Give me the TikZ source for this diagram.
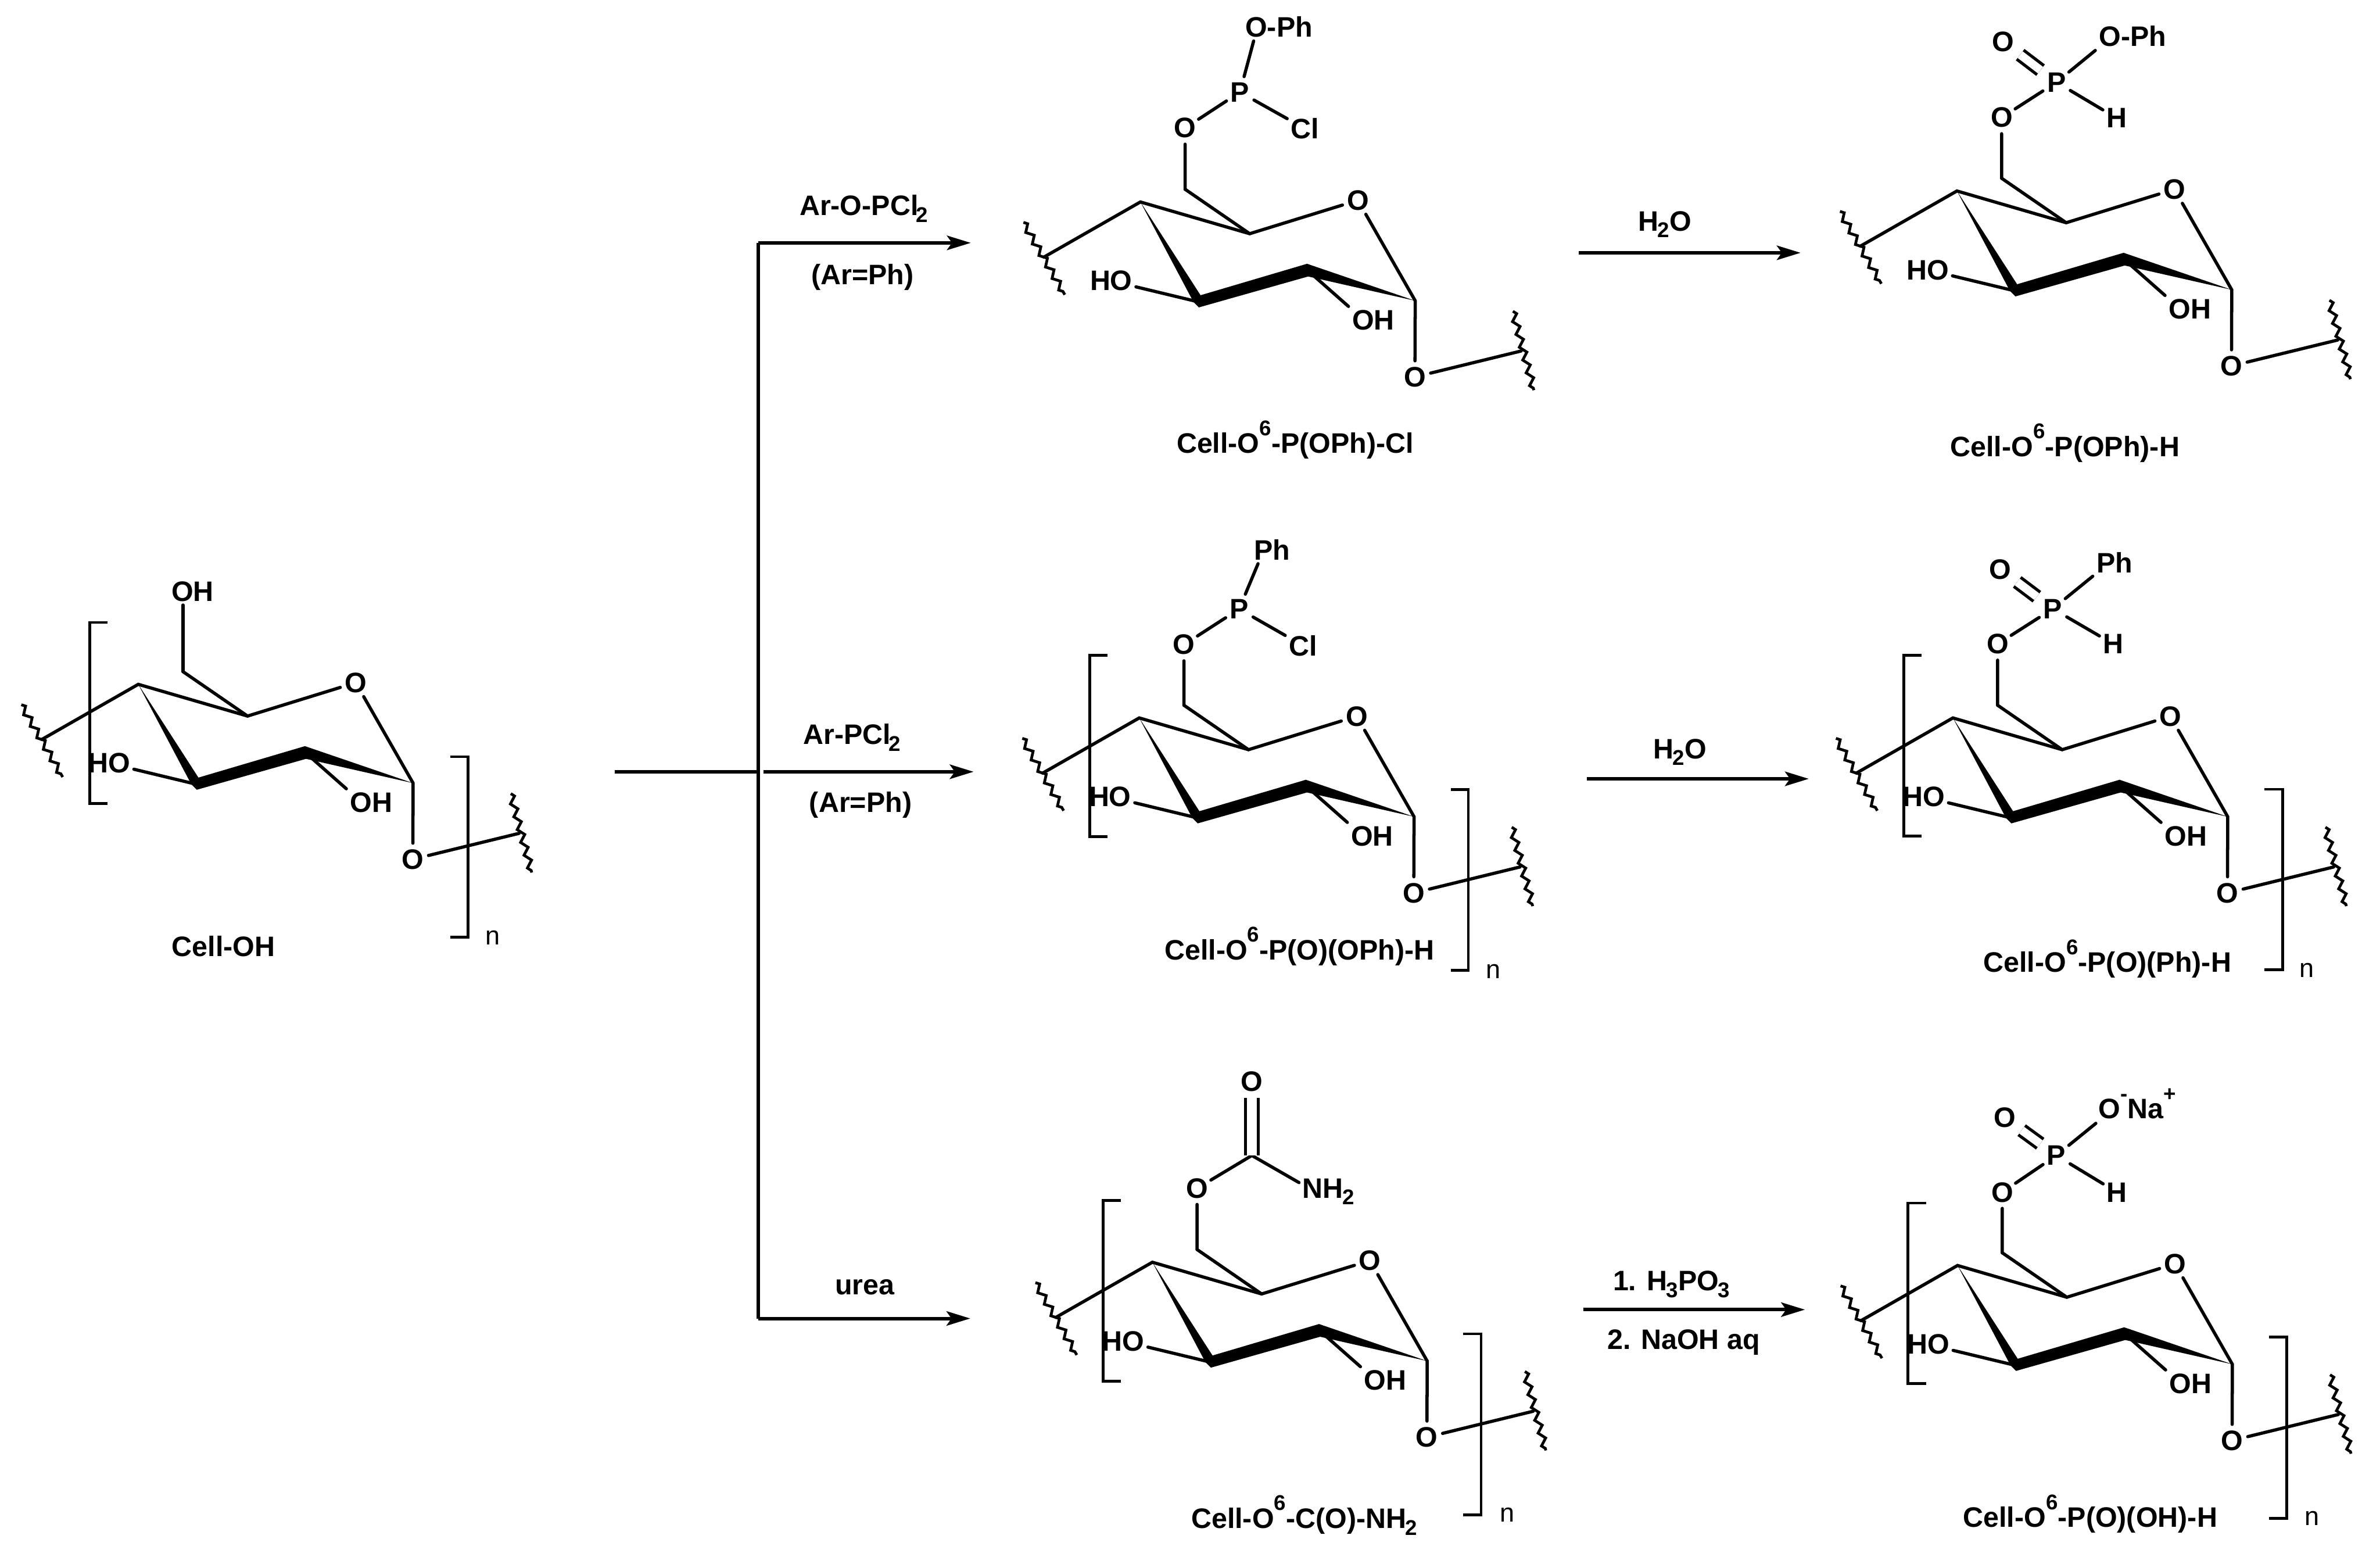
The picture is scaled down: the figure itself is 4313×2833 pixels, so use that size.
\documentclass[tikz,border=0pt]{standalone}
\usepackage{fontspec}
\setmainfont{Liberation Sans}
\usetikzlibrary{arrows.meta,decorations.pathmorphing}
\newcommand\chemsub[1]{\kern-.03em\raisebox{-.24em}[0pt][0pt]{\fontsize{11}{11}\selectfont #1}}
\newcommand\chemsup[1]{\raisebox{.63em}[0pt][0pt]{\fontsize{11}{11}\selectfont #1}}
\tikzset{
  chemfont/.style={font=\fontsize{14.5}{17}\selectfont\bfseries},
  bond/.style={line width=.058cm,line join=miter,line cap=round},
  dblbond/.style={line width=.055cm,line cap=butt,double,double distance=.15cm,shorten >=.09cm,shorten <=.07cm},
  wavy/.style={line width=.05cm,decorate,decoration={zigzag,segment length=.24cm,amplitude=.055cm}},
  atomone/.style={chemfont,circle,inner sep=0pt,minimum size=.57cm},
  atomtxt/.style={chemfont,rectangle,inner sep=.06cm},
  caption/.style={chemfont,anchor=base,inner sep=0pt},
  reagent/.style={chemfont,anchor=base,inner sep=0pt},
  rep/.style={font=\fontsize{13.5}{16}\selectfont,inner sep=0pt},
  brk/.style={line width=.05cm,line join=miter},
  rxn/.style={line width=.062cm,-{Stealth[length=.43cm,width=.26cm,inset=.09cm]}},
  rxnline/.style={line width=.062cm,line join=miter},
}
\newcommand\cellring[3]{%
  \begin{scope}[shift={(#2,#3)},name prefix=#1-]
    \coordinate (C4) at (0,0);
    \coordinate (C5) at (198,57.5);
    \coordinate (C1) at (498,179);
    \coordinate (C2) at (302,123);
    \coordinate (C3) at (105,181);
    \coordinate (C6) at (81,-23);
    \coordinate (WL) at (-175,100);
    \coordinate (WLa) at (-212,37);
    \coordinate (WLb) at (-137,168);
    \coordinate (WR) at (690,270);
    \coordinate (WRa) at (675,198);
    \coordinate (WRb) at (713,341);
    \node[atomone] (O5) at (394,-3) {O};
    \node[atomone] (O1) at (497.5,317) {O};
    \node[atomtxt] (HO) at (-53,143) {HO};
    \node[atomtxt] (OH) at (422,214) {OH};
    \draw[bond] (WL) -- (C4) -- (C5) -- (O5) -- (C1) -- (O1) -- (WR);
    \draw[bond] (C5) -- (C6);
    \draw[bond] (C3) -- (HO);
    \draw[bond] (C2) -- (OH.north west);
    \draw[wavy] (WLa) -- (WLb);
    \draw[wavy] (WRa) -- (WRb);
    \fill[black] (C4) -- (109,169) -- (302,112) -- (C1) -- (304,135) -- (106,191) -- (96,181) -- cycle;
  \end{scope}}
\begin{document}
\begin{tikzpicture}[x=.01cm,y=-.01cm]
\useasboundingbox (0,0) rectangle (4313,2833);

% ---------- Cell-OH
\cellring{a}{250.6}{1239.8}
\node[atomtxt] (a-OH6) at (349,1071.4) {OH};
\draw[bond] (a-C6) -- (a-C6 |- a-OH6.south);
\draw[brk] (194.5,1127.6) -- (162.6,1127.6) -- (162.6,1455.6) -- (194.5,1455.6);
\draw[brk] (816.4,1371) -- (848.3,1371) -- (848.3,1698) -- (816.4,1698);
\node[rep] (a-n) at (893,1699) {n};
\node[caption] (a-cap) at (405,1733) {Cell-OH};

% ---------- top middle
\cellring{b}{2066.6}{365.9}
\node[atomone] (b-O6) at (2147.6,232) {O};
\node[atomone] (b-P) at (2246.9,167) {P};
\node[atomtxt] (b-Cl) at (2364.7,233) {Cl};
\node[atomtxt] (b-OPh) at (2317.7,48.8) {O-Ph};
\draw[bond] (b-C6) -- (b-O6) -- (b-P) -- (b-OPh.-151);
\draw[bond] (b-P) -- (b-Cl);
\node[caption] (b-cap) at (2347,821) {Cell-O\chemsup{6}-P(OPh)-Cl};

% ---------- top right
\cellring{c}{3546.3}{346}
\node[atomone] (c-O6) at (3627.3,213) {O};
\node[atomone] (c-P) at (3726.6,149) {P};
\node[atomone] (c-Oa) at (3630.4,75.9) {O};
\node[atomone] (c-H) at (3835.8,214) {H};
\node[atomtxt] (c-OPh) at (3864.6,66) {O-Ph};
\draw[bond] (c-C6) -- (c-O6) -- (c-P) -- (c-OPh.south west);
\draw[bond] (c-P) -- (c-H);
\draw[dblbond] (c-P) -- (c-Oa);
\node[caption] (c-cap) at (3742,826.7) {Cell-O\chemsup{6}-P(OPh)-H};

% ---------- middle middle
\cellring{d}{2064.5}{1300.7}
\node[atomone] (d-O6) at (2145.5,1168) {O};
\node[atomone] (d-P) at (2245.5,1103.4) {P};
\node[atomtxt] (d-Cl) at (2361.2,1169.6) {Cl};
\node[atomtxt] (d-Ph) at (2305,996) {Ph};
\draw[bond] (d-C6) -- (d-O6) -- (d-P) -- (d-Ph.-135);
\draw[bond] (d-P) -- (d-Cl);
\draw[brk] (2007,1187.4) -- (1974.7,1187.4) -- (1974.7,1515.4) -- (2007,1515.4);
\draw[brk] (2629.2,1430.3) -- (2660.8,1430.3) -- (2660.8,1757.7) -- (2629.2,1757.7);
\node[rep] (d-n) at (2706.3,1760.4) {n};
\node[caption] (d-cap) at (2354.8,1738.8) {Cell-O\chemsup{6}-P(O)(OPh)-H};

% ---------- middle right
\cellring{e}{3539}{1300.7}
\node[atomone] (e-O6) at (3620,1166.8) {O};
\node[atomone] (e-P) at (3720,1102.9) {P};
\node[atomone] (e-Oa) at (3625,1031.3) {O};
\node[atomone] (e-H) at (3829.7,1166.8) {H};
\node[atomtxt] (e-Ph) at (3831.7,1018.8) {Ph};
\draw[bond] (e-C6) -- (e-O6) -- (e-P) -- (e-Ph.south west);
\draw[bond] (e-P) -- (e-H);
\draw[dblbond] (e-P) -- (e-Oa);
\draw[brk] (3482.2,1187.4) -- (3449.9,1187.4) -- (3449.9,1514.9) -- (3482.2,1514.9);
\draw[brk] (4103,1429.8) -- (4136.6,1429.8) -- (4136.6,1756.7) -- (4103,1756.7);
\node[rep] (e-n) at (4180.5,1757.7) {n};
\node[caption] (e-cap) at (3818.8,1761.5) {Cell-O\chemsup{6}-P(O)(Ph)-H};

% ---------- bottom middle
\cellring{f}{2088.3}{2286.8}
\node[atomone] (f-O6) at (2169.3,2152.9) {O};
\coordinate (f-CO) at (2268.6,2093.4);
\node[atomone] (f-Oa) at (2268.6,1959.5) {O};
\node[atomtxt] (f-NH) at (2407.5,2152.9) {NH\chemsub{2}};
\draw[bond] (f-C6) -- (f-O6) -- (f-CO) -- (f-NH.169);
\draw[dblbond,double distance=.17cm,shorten <=0cm,shorten >=0cm] (f-CO) -- (f-Oa);
\draw[brk] (2031.5,2174.9) -- (1999.2,2174.9) -- (1999.2,2502.1) -- (2031.5,2502.1);
\draw[brk] (2651.6,2416.5) -- (2683.9,2416.5) -- (2683.9,2744.9) -- (2651.6,2744.9);
\node[rep] (f-n) at (2730.9,2744.9) {n};
\node[caption] (f-cap) at (2363.6,2768.7) {Cell-O\chemsup{6}-C(O)-NH\chemsub{2}};

% ---------- bottom right
\cellring{g}{3547.4}{2292.7}
\node[atomone] (g-O6) at (3628.4,2160) {O};
\node[atomone] (g-P) at (3726.4,2093.4) {P};
\node[atomone] (g-Oa) at (3632.7,2025) {O};
\node[atomone] (g-H) at (3836.2,2160) {H};
\node[chemfont,anchor=base west,inner sep=0pt,outer sep=0pt] (g-ONa) at (3803,2026.7) {O\chemsup{-}Na\chemsup{+}};
\draw[bond] (g-C6) -- (g-O6) -- (g-P) -- ([shift={(-5,8)}]g-ONa.south west);
\draw[bond] (g-P) -- (g-H);
\draw[dblbond] (g-P) -- (g-Oa);
\draw[brk] (3491,2179.7) -- (3457.6,2179.7) -- (3457.6,2506.9) -- (3491,2506.9);
\draw[brk] (4112,2422.4) -- (4144.3,2422.4) -- (4144.3,2750.9) -- (4112,2750.9);
\node[rep] (g-n) at (4189.6,2750.9) {n};
\node[caption] (g-cap) at (3787.8,2767) {Cell-O\chemsup{6}-P(O)(OH)-H};

% ---------- reaction scheme
\coordinate (src) at (1113.8,1398.2);
\coordinate (jn) at (1374.5,1398.2);
\coordinate (tr) at (1374.5,440);
\coordinate (br) at (1374.5,2388.7);
\coordinate (ttip) at (1759.2,440);
\coordinate (mstart) at (1384,1398.2);
\coordinate (mtip) at (1764.3,1398.2);
\coordinate (btip) at (1758.3,2388.7);
\draw[rxnline] (src) -- (jn);
\draw[rxnline] (tr) -- (br);
\draw[rxn] (tr) -- (ttip);
\draw[rxn] (mstart) -- (mtip);
\draw[rxn] (br) -- (btip);
\node[reagent] (r1) at (1565.3,390.3) {Ar-O-PCl\kern-.05em\chemsub{2}};
\node[reagent] (r1b) at (1563,515.8) {(Ar=Ph)};
\node[reagent] (r2) at (1543.6,1348.5) {Ar-PCl\kern-.05em\chemsub{2}};
\node[reagent] (r2b) at (1559.5,1471) {(Ar=Ph)};
\node[reagent] (r3) at (1567,2345) {urea};

\coordinate (h1a) at (2861.4,458);
\coordinate (h1b) at (3263,458);
\draw[rxn] (h1a) -- (h1b);
\node[reagent] (h1) at (3016.6,418.3) {H\chemsub{2}O};
\coordinate (h2a) at (2876,1411);
\coordinate (h2b) at (3277.8,1411);
\draw[rxn] (h2a) -- (h2b);
\node[reagent] (h2) at (3044,1374.3) {H\chemsub{2}O};
\coordinate (h3a) at (2869,2372.7);
\coordinate (h3b) at (3270.8,2372.7);
\draw[rxn] (h3a) -- (h3b);
\node[reagent] (h3) at (3029,2338.3) {1. H\chemsub{3}PO\chemsub{3}};
\node[reagent] (h3b2) at (3051,2444) {2. NaOH aq};
\end{tikzpicture}
\end{document}
